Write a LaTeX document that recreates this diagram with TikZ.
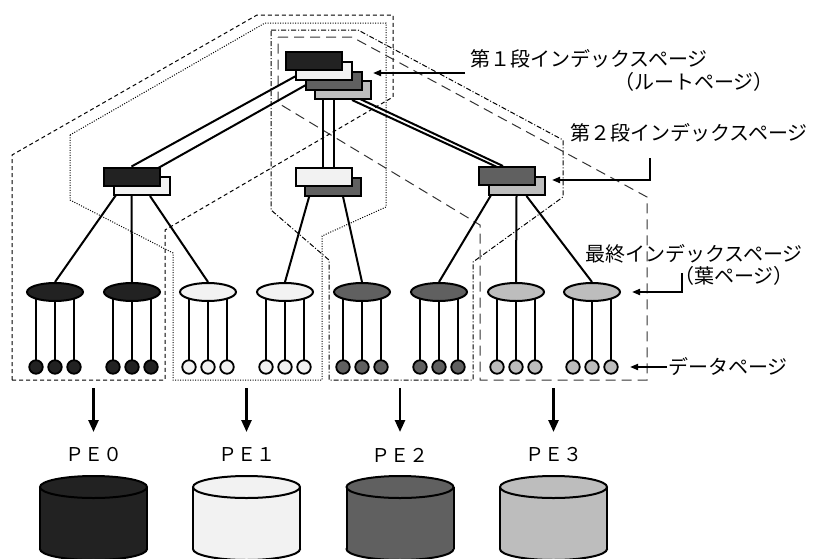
\documentclass[tikz,border=0pt]{standalone}
\usepackage{fontspec}
\newfontfamily\cjk{Noto Sans CJK JP}
\usetikzlibrary{shapes.geometric, arrows.meta}
\definecolor{cA}{HTML}{222222}
\definecolor{cB}{HTML}{F2F2F2}
\definecolor{cC}{HTML}{606060}
\definecolor{cD}{HTML}{BDBDBD}
\pgfdeclarelayer{bg}
\pgfsetlayers{bg,main}
\begin{document}
\begin{tikzpicture}[x=1pt,y=-1pt,
  page/.style={rectangle, draw=black, line width=2pt, minimum width=56pt, minimum height=18pt, inner sep=0pt},
  leafpage/.style={ellipse, draw=black, line width=2pt, minimum width=56pt, minimum height=18pt, inner sep=0pt},
  datapage/.style={circle, draw=black, line width=1.8pt, minimum size=13.5pt, inner sep=0pt},
  link/.style={line width=2pt, draw=black},
  regA/.style={line width=1pt, draw=black, dash pattern=on 4pt off 3pt},
  regB/.style={line width=1pt, draw=black, dash pattern=on 1pt off 1.5pt},
  regC/.style={line width=1pt, draw=black, dash pattern=on 5pt off 2pt on 1pt off 2pt},
  regD/.style={line width=1pt, draw=black!80, dash pattern=on 10pt off 6pt},
  bigarrow/.style={line width=2.5pt, -{Triangle[length=12pt,width=10pt]}},
  larrow/.style={line width=1.8pt, -{Triangle[length=8pt,width=6pt]}},
  lbl/.style={font={\cjk\fontsize{20pt}{24pt}\selectfont}, anchor=west, inner sep=0pt},
  pelbl/.style={font={\cjk\fontsize{19pt}{22pt}\selectfont}, inner sep=0pt},
  cyl/.style={line width=2pt, draw=black}
]
\useasboundingbox (0,0) rectangle (814,558);

% root pages
\node[page, fill=cD] (R4) at (343,90) {};
\node[page, fill=cC] (R3) at (334,81) {};
\node[page, fill=cB] (R2) at (324,71) {};
\node[page, fill=cA] (R1) at (314,61) {};

% second level pages
\node[page, fill=cB] (L2) at (141.5,186) {};
\node[page, fill=cA] (L1) at (131.5,176.5) {};
\node[page, fill=cC] (M2) at (333,186.5) {};
\node[page, fill=cB] (M1) at (324,176.5) {};
\node[page, fill=cD] (Q2) at (516.5,186) {};
\node[page, fill=cC] (Q1) at (506.5,176) {};

% leaves and data pages
\foreach \i/\x/\c in {1/55/cA,2/132/cA,3/208/cB,4/285/cB,5/362/cC,6/439/cC,7/516/cD,8/592/cD}{
  \node[leafpage, fill=\c] (leaf\i) at (\x,292) {};
  \foreach \j/\dx in {1/-19,2/0,3/19}{
    \node[datapage, fill=\c] (d\i\j) at ({\x+(\dx)},367) {};
  }
}

\begin{pgfonlayer}{bg}
  % regions
  \draw[regA] (12,380) -- (12,155) -- (257,15) -- (393,15) -- (393,97) -- (165,230) -- (165,380) -- cycle;
  \draw[regB] (70,135) -- (265,23) -- (386,23) -- (386,207) -- (322,236) -- (322,380) -- (173,380) -- (173,253) -- (70,200) -- cycle;
  \draw[regC] (271,30) -- (358,30) -- (563,140) -- (563,197) -- (473,262) -- (473,380) -- (329,380) -- (329,260) -- (271,210) -- cycle;
  \draw[regD] (278,37) -- (352,37) -- (647,197) -- (647,380) -- (480,380) -- (480,225) -- (278,103) -- cycle;
  % root to second level
  \draw[link] ([xshift=-9pt]R1.south) -- (L1.north);
  \draw[link] ([xshift=-11pt]R2.south) -- ([xshift=2.5pt]L2.north);
  \draw[link] ([xshift=-1pt]R2.south) -- ([xshift=-1pt]M1.north);
  \draw[link] (R3.south) -- (R3.south |- M2.north);
  \draw[link] ([xshift=9pt]R3.south) -- ([xshift=-3.5pt]Q1.north);
  \draw[link] ([xshift=9pt]R4.south) -- (Q2.north);
  % second level to leaves
  \draw[link] ([xshift=-9.5pt]L1.south) -- (leaf1.north);
  \draw[link] (L1.south) -- (leaf2.north);
  \draw[link] ([xshift=8.5pt]L2.south) -- (leaf3.north);
  \draw[link] ([xshift=-12pt]M1.south) -- (leaf4.north);
  \draw[link] ([xshift=10pt]M2.south) -- (leaf5.north);
  \draw[link] ([xshift=-10pt]Q1.south) -- (leaf6.north);
  \draw[link] (Q2.south) -- (leaf7.north);
  \draw[link] ([xshift=10pt]Q2.south) -- (leaf8.north);
  % leaves to data pages
  \foreach \i in {1,...,8}{
    \foreach \j in {1,2,3}{
      \draw[link] (leaf\i.center -| d\i\j.center) -- (d\i\j.center);
    }
  }
\end{pgfonlayer}

% labels on the right
\node[lbl] (t1) at (470,59) {第１段インデックスページ};
\node[lbl] (t1b) at (614,82) {（ルートページ）};
\node[lbl] (t2) at (570,133) {第２段インデックスページ};
\node[lbl] (t3) at (585,254) {最終インデックスページ};
\node[lbl] (t3b) at (674,276) {（葉ページ）};
\node[lbl] (t4) at (668,367) {データページ};

\coordinate (a1s) at (465,73);  \coordinate (a1e) at (373,73);
\coordinate (a2s) at (650,158); \coordinate (a2e) at (552,180);
\coordinate (a3s) at (682,273); \coordinate (a3e) at (632,292);
\coordinate (a4s) at (667,367); \coordinate (a4e) at (630,367);
\draw[larrow] (a1s) -- (a1e);
\draw[larrow] (a2s) |- (a2e);
\draw[larrow] (a3s) |- (a3e);
\draw[larrow] (a4s) -- (a4e);

% PE arrows, labels and disks
\foreach \n/\cx/\c/\d in {0/93.5/cA/０,1/246.5/cB/１,2/400/cC/２,3/553.5/cD/３}{
  \coordinate (p\n s) at (\cx,388);
  \coordinate (p\n e) at (\cx,432);
  \draw[bigarrow] (p\n s) -- (p\n e);
  \node[pelbl] (pe\n) at (\cx,455) {ＰＥ\d};
  \draw[cyl, fill=\c] (\cx,549) ellipse [x radius=53.5pt, y radius=11pt];
  \fill[\c] ({\cx-53.5},487) rectangle ({\cx+53.5},549);
  \draw[cyl] ({\cx-53.5},487) -- ({\cx-53.5},549);
  \draw[cyl] ({\cx+53.5},487) -- ({\cx+53.5},549);
  \draw[cyl, fill=\c] (\cx,487) ellipse [x radius=53.5pt, y radius=11pt];
}
\end{tikzpicture}
\end{document}
